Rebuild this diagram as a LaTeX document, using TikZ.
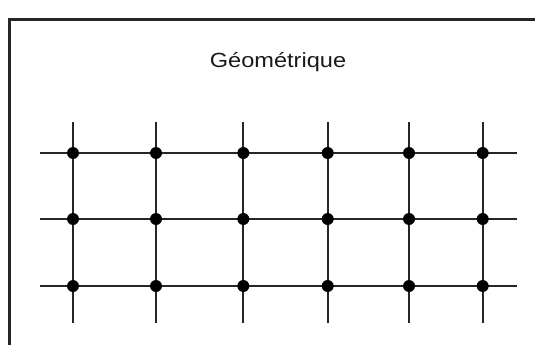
\documentclass[tikz,border=0pt]{standalone}
\usepackage{fontspec}
\setmainfont{Liberation Sans}
\begin{document}
\begin{tikzpicture}[x=1pt,y=-1pt,
  gridline/.style={line width=2pt,draw=black!85},
  dotnode/.style={circle,fill=black,inner sep=0pt,minimum size=12pt},
  frameline/.style={line width=3pt,draw=black!85},
  titletext/.style={font=\fontsize{20.5pt}{24pt}\selectfont,inner sep=0pt,xscale=1.15,text=black!90}]
\useasboundingbox (0,0) rectangle (535,345);
% frame (top and left)
\coordinate (fbl) at (9.5,346);
\coordinate (ftl) at (9.5,20);
\coordinate (ftr) at (536,20);
\draw[frameline] (fbl) -- (ftl) -- (ftr);
% title
\node[titletext,anchor=base] (title) at (278,67.3) {Géométrique};
% grid
\foreach \r/\y in {1/153,2/219,3/286}{
  \coordinate (hL\r) at (40,\y);
  \coordinate (hR\r) at (517,\y);
  \draw[gridline] (hL\r) -- (hR\r);
}
\foreach \c/\x in {1/73,2/156,3/243.3,4/327.7,5/409,6/482.7}{
  \coordinate (vT\c) at (\x,122);
  \coordinate (vB\c) at (\x,323);
  \draw[gridline] (vT\c) -- (vB\c);
  \foreach \r/\y in {1/153,2/219,3/286}{
    \node[dotnode] (d\c-\r) at (\x,\y) {};
  }
}
\end{tikzpicture}
\end{document}
